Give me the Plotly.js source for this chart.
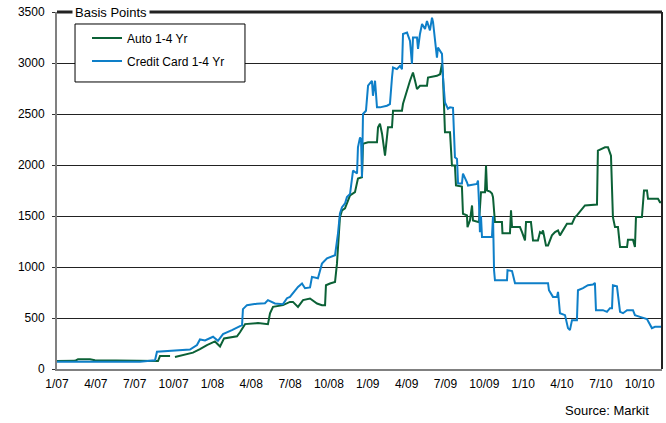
<!DOCTYPE html>
<html>
<head>
<meta charset="utf-8">
<script src="https://cdn.plot.ly/plotly-3.0.1.min.js"></script>
<style>html,body{margin:0;padding:0;background:#fff;}#chart{width:666px;height:423px;}</style>
</head>
<body>
<div id="chart"></div>
<script>
// x values: months elapsed since January 2007
const tickMonths = [0,3,6,9,12,15,18,21,24,27,30,33,36,39,42,45];
const tickLabels = ["1/07","4/07","7/07","10/07","1/08","4/08","7/08","10/08","1/09","4/09","7/09","10/09","1/10","4/10","7/10","10/10"];

const ccMonths = [0,3.32,6.41,7.18,7.57,7.72,8.73,10.27,10.81,11.04,11.43,12.05,12.43,12.82,13.51,14.29,14.36,14.67,15.44,16.06,16.29,16.83,17.45,17.76,17.99,18.22,18.61,18.92,19.15,19.54,19.69,20.15,20.46,20.85,21.47,21.70,21.85,22.01,22.24,22.39,22.63,22.86,23.17,23.24,23.40,23.48,23.55,23.63,23.86,24.02,24.17,24.32,24.40,24.56,24.71,24.94,25.48,25.71,25.87,25.95,26.25,26.49,26.64,26.72,27.03,27.26,27.41,27.49,27.80,27.88,28.03,28.19,28.42,28.57,28.80,28.96,29.04,29.19,29.34,29.42,29.73,29.81,29.96,30.19,30.35,30.58,30.73,30.89,30.97,31.27,31.35,31.66,31.74,32.43,32.51,32.59,32.66,32.74,32.82,33.59,33.67,33.75,33.82,34.75,34.79,35.14,35.37,37.92,37.99,38.30,38.61,38.69,38.84,39.23,39.46,39.61,39.77,40.15,40.23,40.62,41.00,41.39,41.54,41.62,42.16,42.47,42.70,42.86,42.93,43.24,43.48,43.71,44.02,44.48,44.63,45.02,45.56,45.94,46.18,46.72];
const ccValues = [71,70,70,80,85,170,176,190,235,290,280,316,277,342,381,430,587,626,640,645,675,642,636,694,707,740,805,838,792,800,903,890,1033,1085,1115,1330,1525,1587,1623,1685,1717,1946,1916,2173,2271,2250,1880,2500,2532,2777,2800,2826,2679,2826,2565,2565,2581,2597,2858,2956,2940,2972,2940,3285,3298,3217,2992,3249,3249,3138,3285,3383,3334,3412,3320,3445,3400,3187,3053,3151,3089,2858,2613,2552,2565,2560,2076,2060,1818,1818,1916,1831,1799,1815,1848,1623,1342,1500,1294,1294,1500,968,870,870,968,960,841,841,772,707,707,756,547,528,401,381,479,479,772,792,821,828,844,577,577,560,596,596,821,810,560,547,577,577,528,511,489,401,414,414];

const autoMonths = [0,1.39,1.62,2.55,2.93,5.64,7.18,7.80,7.95,8.73,8.80,9.11,9.88,10.50,11.04,11.58,12.20,12.59,12.90,13.90,14.13,14.52,15.52,16.29,16.45,16.68,17.45,17.99,18.22,18.61,19.00,19.54,20.08,20.46,20.70,20.77,21.08,21.47,21.62,21.85,22.01,22.24,22.63,23.01,23.24,23.55,23.63,24.02,24.71,24.79,24.94,25.10,25.33,25.56,25.87,25.95,26.64,26.72,27.26,27.49,27.65,27.80,28.03,28.57,28.65,29.34,29.58,29.73,29.81,29.88,29.96,30.35,30.50,30.73,30.81,31.27,31.35,31.66,31.70,31.89,32.05,32.12,32.51,32.59,32.74,33.05,33.13,33.21,33.44,33.59,33.67,33.75,33.82,34.36,34.40,34.98,35.06,35.14,35.75,35.91,36.14,36.22,36.60,36.76,37.14,37.30,37.45,37.53,37.76,37.92,38.22,38.46,38.69,38.84,39.38,39.77,40.00,40.15,40.54,40.77,41.70,41.77,42.32,42.55,42.78,42.93,43.09,43.32,43.48,44.02,44.09,44.48,44.63,44.71,45.17,45.33,45.56,45.64,46.41,46.56,46.72];
const autoValues = [78,80,95,95,85,80,75,78,127,127,null,117,140,160,195,235,270,220,300,320,360,440,450,440,547,609,626,658,658,609,675,691,642,626,626,821,838,854,1033,1489,1555,1574,1701,1734,1867,1880,2209,2222,2222,2369,2405,2307,2092,2369,2369,2532,2532,2600,2826,2907,2826,2744,2777,2777,2858,2874,2890,2990,2858,2630,2320,2320,1994,1994,1799,1789,1522,1506,1391,1457,1603,1457,1440,1440,1734,1734,1994,1750,1740,1720,1685,1489,1440,1440,1330,1330,1555,1391,1391,1342,1261,1440,1440,1261,1261,1342,1330,1359,1212,1212,1310,1342,1359,1310,1424,1424,1489,1506,1571,1603,1613,2141,2173,2173,2092,1489,1391,1391,1196,1196,1267,1267,1196,1489,1489,1750,1750,1668,1668,1636,1636];

const yTicks = [0,500,1000,1500,2000,2500,3000,3500];

const fontFam = '"Liberation Sans", Arial, Helvetica, sans-serif';

const traces = [
  {x: autoMonths, y: autoValues, type: 'scatter', mode: 'lines', name: 'Auto 1-4 Yr',
   legendgroup: 'a', line: {color: '#0b6136', width: 2, shape: 'linear'}, connectgaps: false},
  {x: ccMonths, y: ccValues, type: 'scatter', mode: 'lines', name: 'Credit Card 1-4 Yr',
   legendgroup: 'b', line: {color: '#0e7fc8', width: 2, shape: 'linear'}}
];

const layout = {
  width: 666, height: 423,
  margin: {l: 57, r: 4, t: 12, b: 54},
  paper_bgcolor: '#ffffff', plot_bgcolor: '#ffffff',
  font: {family: fontFam, size: 12, color: '#000'},
  showlegend: true,
  legend: {x: 0.0496, y: 0.968, xanchor: 'left', yanchor: 'top',
    bgcolor: 'rgba(0,0,0,0)', borderwidth: 0,
    font: {family: fontFam, size: 12, color: '#000'},
    tracegroupgap: 4, traceorder: 'grouped', itemwidth: 30},
  xaxis: {range: [0, 46.72], tickvals: tickMonths, ticktext: tickLabels,
    showgrid: false, zeroline: false, showline: true, linecolor: '#808080', linewidth: 2,
    ticks: '', ticklabelstandoff: 3, tickfont: {family: fontFam, size: 12, color: '#000'}, fixedrange: true},
  yaxis: {range: [0, 3500], tickvals: yTicks, showgrid: true, gridcolor: '#222', gridwidth: 1,
    zeroline: false, showline: true, linecolor: '#808080', linewidth: 2,
    ticks: 'outside', ticklen: 3, tickcolor: '#333', ticklabelstandoff: 5,
    tickfont: {family: fontFam, size: 12, color: '#000'}, fixedrange: true},
  shapes: [
    {type: 'line', xref: 'paper', yref: 'paper', x0: 0, x1: 1, y0: 1, y1: 1,
     line: {color: '#222', width: 3}, layer: 'above'},
    {type: 'line', xref: 'paper', yref: 'paper', x0: 1, x1: 1, y0: 0, y1: 1,
     line: {color: '#222', width: 2}, layer: 'above'},
    {type: 'rect', xref: 'paper', yref: 'paper', x0: 0.0298, x1: 0.3107, y0: 0.804, y1: 0.9664,
     fillcolor: '#ffffff', line: {color: '#000', width: 1}, layer: 'above'}
  ],
  annotations: [
    {text: 'Basis Points', xref: 'paper', yref: 'paper', x: 0.025, y: 1,
     xanchor: 'left', yanchor: 'middle', showarrow: false, bgcolor: '#ffffff', borderpad: 2,
     font: {family: fontFam, size: 13, color: '#000'}},
    {text: 'Source: Markit', xref: 'paper', yref: 'paper', x: 0.982, y: -0.09,
     xanchor: 'right', yanchor: 'top', showarrow: false,
     font: {family: fontFam, size: 13, color: '#000'}}
  ]
};

Plotly.newPlot('chart', traces, layout, {displayModeBar: false, staticPlot: true});
</script>
</body>
</html>
